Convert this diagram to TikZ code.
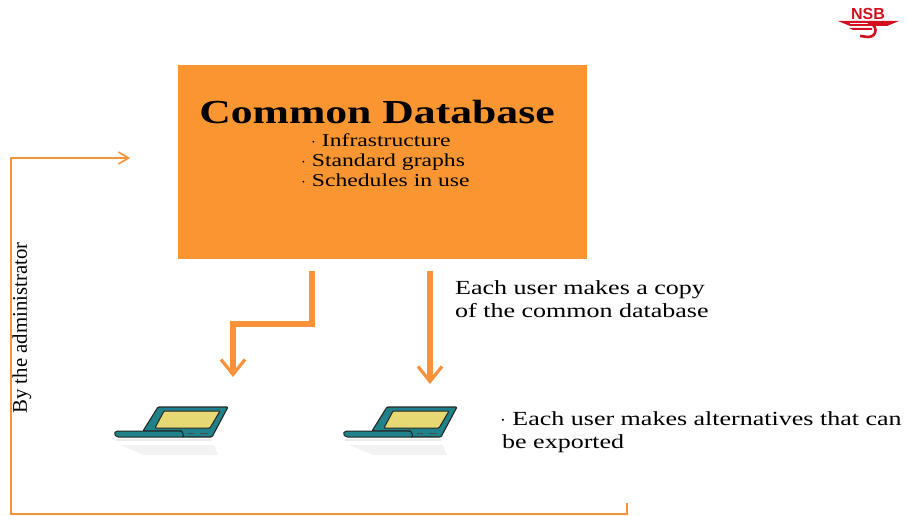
\documentclass[tikz,border=0pt]{standalone}
\usepackage{fontspec}
\usetikzlibrary{positioning, arrows.meta}
\setmainfont[FakeStretch=1.3]{Liberation Serif}
\newfontfamily\plainserif{Liberation Serif}
\newfontfamily\logofont{Liberation Sans}
\definecolor{dborange}{HTML}{FA9632}
\definecolor{linkorange}{HTML}{F9923A}
\definecolor{laptopteal}{HTML}{1F8189}
\definecolor{screenyellow}{HTML}{E6D873}
\definecolor{logored}{HTML}{D4101E}

\begin{document}
\begin{tikzpicture}[x=1pt, y=-1pt, on grid,
    label/.style={inner sep=0pt, anchor=west, text height=14pt, text depth=4.5pt, font=\fontsize{20}{20}\selectfont},
    item/.style={inner sep=0pt, anchor=west, text height=12pt, text depth=4pt, font=\fontsize{18.2}{18.2}\selectfont},
    bigarrow/.style={draw=linkorange, line width=6pt, -{Straight Barb[line width=3.2pt, length=15pt, width=24pt]}},
    thinarrow/.style={draw=linkorange, line width=2.4pt, -{Straight Barb[line width=1.6pt, length=10pt, width=12pt]}},
    laptop/.pic={
      \fill[black!5] (6,14) -- (100,14) -- (104,24) -- (30,24) -- cycle;
      \draw[black!85, line width=1.1pt, fill=laptopteal, rounded corners=1pt]
        (29,0) -- (44,-24) -- (114,-24) -- (98,6) -- (68,6) -- (68,0) -- cycle;
      \draw[black!85, line width=1pt, fill=screenyellow, rounded corners=1pt]
        (41,-3) -- (50,-20) -- (106,-20) -- (96,-3) -- cycle;
      \draw[black!85, line width=1pt, fill=laptopteal, rounded corners=1.5pt]
        (2,0) -- (68,0) -- (70,6) -- (3,6) -- (0,3) -- cycle;
      \draw[black!70, line width=.8pt] (74,2.5) -- (80,2.5) (86,2.5) -- (94,2.5);
      \fill[black!8] (2,8) -- (98,8) -- (98,10) -- (2,10) -- cycle;
    }]
  \useasboundingbox (0,0) rectangle (907,516);

  \node[fill=dborange, minimum width=409pt, minimum height=194pt, inner sep=0pt] (db) at (382.5,162) {};
  \node[inner sep=0pt, font=\fontsize{33.6}{33.6}\selectfont\bfseries] (title) at (377,112.5) {Common Database};
  \node[item] (infra) at (311,142.5) {$\cdot$ Infrastructure};
  \node[item, below left=20pt and 10pt of infra.west, anchor=west] (graphs) {$\cdot$ Standard graphs};
  \node[item, below=20pt of graphs.west, anchor=west] (schedules) {$\cdot$ Schedules in use};

  \node[label] (copya) at (455,290) {Each user makes a copy};
  \node[label, below=23pt of copya.west, anchor=west] (copyb) {of the common database};
  \node[label] (alta) at (500,421) {$\cdot$ Each user makes alternatives that can};
  \node[label, below=23pt of alta.west, anchor=west, xshift=2pt] (altb) {be exported};
  \node[inner sep=0pt, rotate=90, font=\plainserif\fontsize{20.8}{20.8}\selectfont] (admin) at (22,328) {By the administrator};

  \pic (pca) at (114,431) {laptop};
  \pic (pcb) at (343,431) {laptop};

  % orange links
  \coordinate (outa) at (312,271);
  \coordinate (bendaa) at (312,324);
  \coordinate (bendab) at (233,324);
  \coordinate (ina) at (233,377);
  \coordinate (outb) at (430,271);
  \coordinate (inb) at (430,384);
  \draw[bigarrow] (outa) -- (bendaa) -- (bendab) -- (ina);
  \draw[bigarrow] (outb) -- (inb);

  \coordinate (ticktop) at (627,503);
  \coordinate (corner) at (627,514);
  \coordinate (cornerb) at (11,514);
  \coordinate (cornerc) at (11,158);
  \coordinate (indb) at (130,158);
  \draw[thinarrow] (ticktop) -- (corner) -- (cornerb) -- (cornerc) -- (indb);

  % NSB logo
  \node[inner sep=0pt, text=logored, font=\logofont\bfseries\fontsize{16}{16}\selectfont] (nsb) at (868,13.5) {NSB};
  \fill[logored] (838,21) -- (899,21) -- (887,26) -- (850,26) -- cycle;
  \fill[white] (850,23.5) rectangle (868,24.3);
  \fill[logored] (849,28) -- (872,28) -- (872,30) -- (853,30) -- cycle;
  \draw[logored, line width=2.6pt] (868,23) .. controls (878,24) and (878,37) .. (868,37) -- (860,36);
\end{tikzpicture}
\end{document}
